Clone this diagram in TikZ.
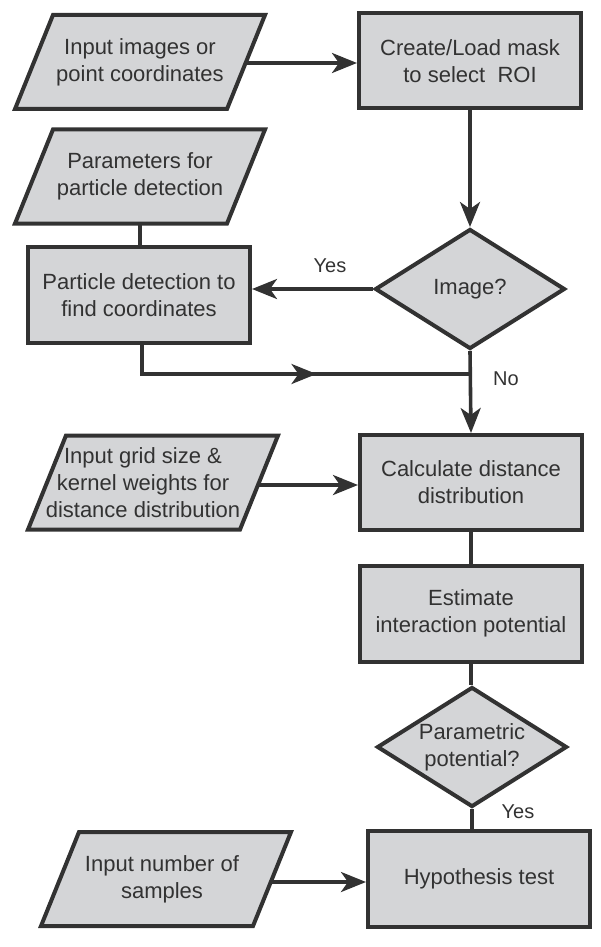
\documentclass[tikz,border=0pt]{standalone}
\usepackage{fontspec}
\setmainfont{Liberation Sans}
\usetikzlibrary{arrows.meta,shapes.geometric,decorations.markings}
\definecolor{boxfill}{RGB}{212,213,215}
\definecolor{ink}{RGB}{50,50,50}
\newcommand\iobox[4][]{%
  \filldraw[ioshape] #3 ++(-87,-47) -- ++(212,0) -- ++(-38,94) -- ++(-212,0) -- cycle;
  \node[iotext,#1] (#2) at #3 {#4};}
\begin{document}
\begin{tikzpicture}[x=1pt,y=-1pt,
  every node/.style={font=\fontsize{22}{27}\selectfont, text=ink},
  ioshape/.style={draw=ink, fill=boxfill, line width=4pt, line join=miter},
  iotext/.style={align=center, minimum width=212pt, minimum height=94pt, inner sep=0pt},
  procbox/.style={draw=ink, fill=boxfill, line width=4pt, minimum width=222pt, minimum height=95pt, align=center, inner sep=0pt},
  decision/.style={diamond, draw=ink, fill=boxfill, line width=4pt, minimum width=190pt, minimum height=120pt, inner sep=0pt, align=center, aspect=1.58},
  conn/.style={ink, line width=3.6pt},
  arr/.style={conn, -{Stealth[length=25pt,width=20pt,inset=7pt]}},
  midarr/.style={conn, postaction={decorate}, decoration={markings, mark=at position #1 with {\arrow{Stealth[length=25pt,width=20pt,inset=7pt]}}}},
  lbl/.style={font=\fontsize{20}{24}\selectfont}]
\useasboundingbox (0,0) rectangle (600,947);

% input / output shapes
\iobox{in1}{(140,62)}{Input images or\\point coordinates}
\iobox{in2}{(140,176.5)}{Parameters for\\particle detection}
\iobox[xshift=-10pt, minimum width=232pt]{in3}{(153,482.5)}{Input grid size \&\\kernel weights for\\distance distribution}
\iobox[xshift=-4pt, minimum width=220pt]{in4}{(166,879)}{Input number of\\samples}

% process boxes
\node[procbox] (mask) at (470,61) {Create/Load mask\\to select~ ROI};
\node[procbox, minimum height=96pt] (detect) at (139,295) {Particle detection to\\find coordinates};
\node[procbox] (calc) at (471,482.5) {Calculate distance\\distribution};
\node[procbox, minimum height=96pt] (est) at (471,613.5) {Estimate\\interaction potential};
\node[procbox, minimum height=96pt] (hyp) at (479,879) {Hypothesis test};

% decisions
\node[decision] (img) at (470,289) {Image?};
\node[decision] (par) at (472,747) {Parametric\\potential?};

% connectors
\draw[arr] (in1.east |- 0,63) -- (mask.west |- 0,63);
\draw[arr] (mask.south) -- (img.north);
\draw[arr] (img.west) -- (detect.east |- img.west);
\draw[conn] (in2.south) -- (in2.south |- detect.north);
\coordinate (join) at (470,374);
\draw[midarr=0.57] ([xshift=3pt]detect.south) |- (join);
\draw[arr] (img.south) -- (calc.north);
\draw[arr] (in3.east |- 0,485) -- (calc.west |- 0,485);
\draw[conn] (calc.south) -- (est.north);
\draw[conn] (est.south) -- (est.south |- par.north);
\draw[conn] (par.south) -- (par.south |- hyp.north);
\draw[arr] (in4.east |- 0,882) -- (hyp.west |- 0,882);

% labels
\node[lbl] (yes1) at (330,266) {Yes};
\node[lbl] (no1) at (506,379) {No};
\node[lbl] (yes2) at (518,812) {Yes};
\end{tikzpicture}
\end{document}
